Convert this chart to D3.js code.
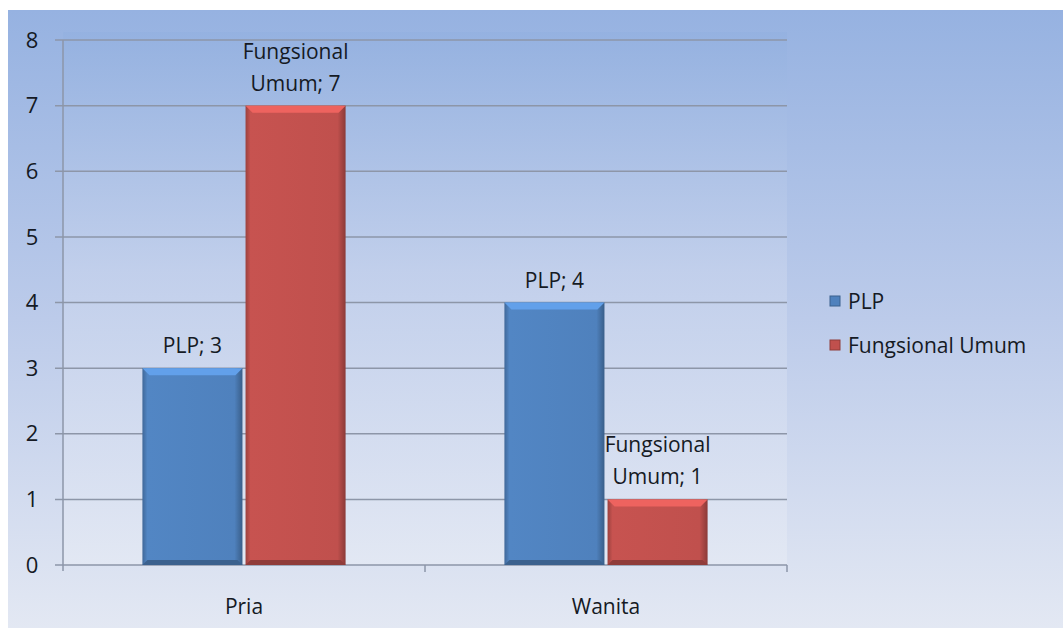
<!DOCTYPE html>
<html>
<head>
<meta charset="utf-8">
<script src="https://cdn.jsdelivr.net/npm/d3@7"></script>
<style>
  body { margin: 0; background: #ffffff; }
  text { font-family: "Open Sans", Lato, sans-serif; fill: #151a24; }
</style>
</head>
<body>
<div id="chart"></div>
<script>
// chart data
var categories = ["Pria", "Wanita"];
var seriesNames = ["PLP", "Fungsional Umum"];
var plpValues = [3, 4];
var umumValues = [7, 1];
var yTicks = [0, 1, 2, 3, 4, 5, 6, 7, 8];
var seriesColors = ["#4f81bd", "#c0504d"];

var width = 1063, height = 630;
var plot = { left: 63, right: 787, top: 40, bottom: 565 };
var fontSize = "21px";

var svg = d3.select("#chart").append("svg")
    .attr("width", width)
    .attr("height", height);

var defs = svg.append("defs");

// background gradient of the chart area
var bg = defs.append("linearGradient").attr("id", "bg")
    .attr("x1", 0).attr("y1", 0).attr("x2", 0).attr("y2", 1);
bg.append("stop").attr("offset", "0%").attr("stop-color", "#96b2e1");
bg.append("stop").attr("offset", "50%").attr("stop-color", "#bccbea");
bg.append("stop").attr("offset", "100%").attr("stop-color", "#e3e8f3");

var pg = defs.append("linearGradient").attr("id", "plotbg")
    .attr("x1", 0).attr("y1", 0).attr("x2", 0).attr("y2", 1);
pg.append("stop").attr("offset", "0%").attr("stop-color", "#94b1e0");
pg.append("stop").attr("offset", "45%").attr("stop-color", "#c4d1ec");
pg.append("stop").attr("offset", "100%").attr("stop-color", "#e4e9f4");

// bar shading: darker at the sides, like the 3d bevel
seriesColors.forEach(function(c, i) {
    var g = defs.append("linearGradient").attr("id", "bar" + i)
        .attr("x1", 0).attr("y1", 0).attr("x2", 1).attr("y2", 0);
    var base = d3.color(c);
    g.append("stop").attr("offset", "0%").attr("stop-color", base.darker(0.6));
    g.append("stop").attr("offset", "5%").attr("stop-color", base.brighter(0.1));
    g.append("stop").attr("offset", "92%").attr("stop-color", base);
    g.append("stop").attr("offset", "100%").attr("stop-color", base.darker(0.9));
});

svg.append("rect")
    .attr("x", 8).attr("y", 10)
    .attr("width", width - 8).attr("height", height - 12)
    .attr("fill", "url(#bg)");

svg.append("rect")
    .attr("x", plot.left).attr("y", plot.top - 8)
    .attr("width", plot.right - plot.left).attr("height", plot.bottom - plot.top + 8)
    .attr("fill", "url(#plotbg)")
    .attr("opacity", 0.8);

// scales
var y = d3.scaleLinear().domain([0, 8]).range([plot.bottom, plot.top]);
var x0 = d3.scaleBand().domain(categories).range([plot.left, plot.right])
    .paddingInner(0).paddingOuter(0);
var x1 = d3.scaleBand().domain(seriesNames).range([0, x0.bandwidth()])
    .paddingInner(0.03).paddingOuter(0.77);

// gridlines
svg.append("g")
    .selectAll("line")
    .data(yTicks)
    .enter()
    .append("line")
    .attr("x1", plot.left - 8).attr("x2", plot.right)
    .attr("y1", function(d) { return y(d); })
    .attr("y2", function(d) { return y(d); })
    .attr("stroke", "#8d96a8")
    .attr("stroke-width", 1.5);

// y axis line
svg.append("line")
    .attr("x1", plot.left).attr("x2", plot.left)
    .attr("y1", plot.top).attr("y2", plot.bottom + 6)
    .attr("stroke", "#8d96a8").attr("stroke-width", 1.5);

// y tick labels
svg.append("g")
    .selectAll("text")
    .data(yTicks)
    .enter()
    .append("text")
    .attr("x", 32)
    .attr("y", function(d) { return y(d); })
    .attr("dy", "0.35em")
    .attr("text-anchor", "middle")
    .style("font-size", "22px")
    .text(function(d) { return d; });

// x axis category ticks
var xTickPos = [plot.left + x0.bandwidth(), plot.right];
svg.append("g")
    .selectAll("line")
    .data(xTickPos)
    .enter()
    .append("line")
    .attr("x1", function(d) { return d; }).attr("x2", function(d) { return d; })
    .attr("y1", plot.bottom).attr("y2", plot.bottom + 7)
    .attr("stroke", "#8d96a8").attr("stroke-width", 1.5);

// category labels
svg.append("g")
    .selectAll("text")
    .data(categories)
    .enter()
    .append("text")
    .attr("x", function(d) { return x0(d) + x0.bandwidth() / 2; })
    .attr("y", 614)
    .attr("text-anchor", "middle")
    .style("font-size", fontSize)
    .text(function(d) { return d; });

// build the bar data
var bars = [];
categories.forEach(function(c, i) {
    bars.push({ cat: c, series: seriesNames[0], idx: 0, value: plpValues[i] });
    bars.push({ cat: c, series: seriesNames[1], idx: 1, value: umumValues[i] });
});

var barG = svg.append("g")
    .selectAll("g")
    .data(bars)
    .enter()
    .append("g");

barG.append("rect")
    .attr("x", function(d) { return x0(d.cat) + x1(d.series); })
    .attr("y", function(d) { return y(d.value); })
    .attr("width", x1.bandwidth())
    .attr("height", function(d) { return y(0) - y(d.value); })
    .attr("fill", function(d) { return "url(#bar" + d.idx + ")"; });

// top bevel highlight
barG.append("path")
    .attr("d", function(d) {
        var bx = x0(d.cat) + x1(d.series), by = y(d.value), bw = x1.bandwidth();
        return "M" + bx + "," + by + "L" + (bx + bw) + "," + by +
               "L" + (bx + bw - 7) + "," + (by + 7) + "L" + (bx + 7) + "," + (by + 7) + "Z";
    })
    .attr("fill", function(d) { return d3.color(seriesColors[d.idx]).brighter(0.6); });

// bottom shadow
barG.append("path")
    .attr("d", function(d) {
        var bx = x0(d.cat) + x1(d.series), by = y(0), bw = x1.bandwidth();
        return "M" + bx + "," + by + "L" + (bx + bw) + "," + by +
               "L" + (bx + bw - 5) + "," + (by - 5) + "L" + (bx + 5) + "," + (by - 5) + "Z";
    })
    .attr("fill", function(d) { return d3.color(seriesColors[d.idx]).darker(0.8); });

// data labels
barG.each(function(d) {
    var cx = x0(d.cat) + x1(d.series) + x1.bandwidth() / 2;
    var top = y(d.value);
    var lines = d.series === "PLP" ? [d.series + "; " + d.value]
                                   : ["Fungsional", "Umum; " + d.value];
    var t = d3.select(this).append("text")
        .attr("text-anchor", "middle")
        .style("font-size", fontSize);
    lines.forEach(function(l, k) {
        t.append("tspan")
            .attr("x", cx)
            .attr("y", top - 15 - (lines.length - 1 - k) * 32)
            .text(l);
    });
});

// legend
var legend = svg.append("g")
    .selectAll("g")
    .data(seriesNames)
    .enter()
    .append("g")
    .attr("transform", function(d, i) { return "translate(830," + (302 + i * 44) + ")"; });

legend.append("rect")
    .attr("x", 0).attr("y", -6)
    .attr("width", 10).attr("height", 10)
    .attr("fill", function(d, i) { return seriesColors[i]; })
    .attr("stroke", function(d, i) { return d3.color(seriesColors[i]).darker(0.8); })
    .attr("stroke-width", 1);

legend.append("text")
    .attr("x", 18)
    .attr("y", 0)
    .attr("dy", "0.35em")
    .style("font-size", fontSize)
    .text(function(d) { return d; });
</script>
</body>
</html>
